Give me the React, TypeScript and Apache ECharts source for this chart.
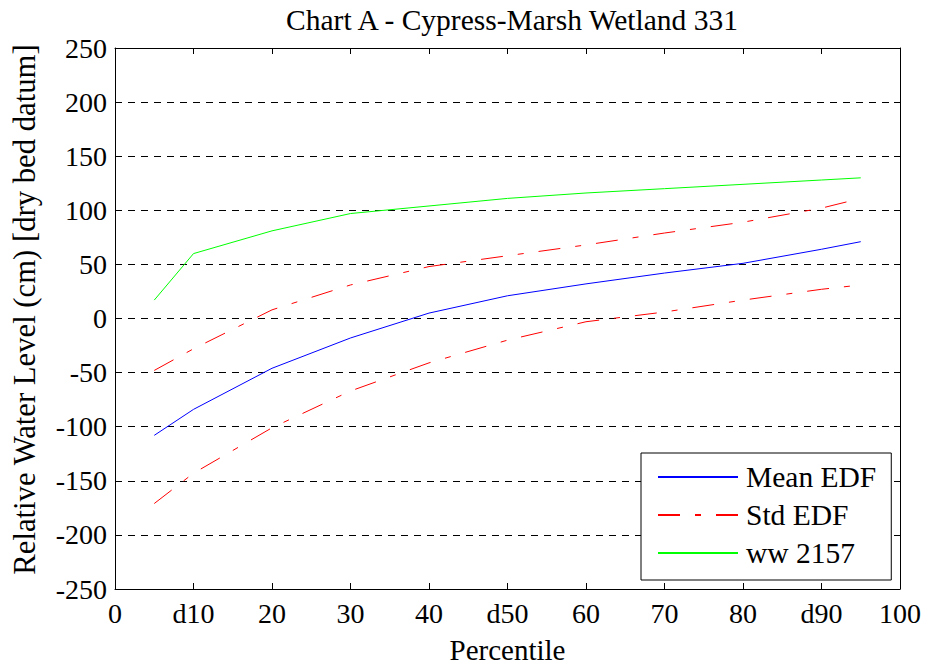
import React, { useEffect, useRef } from "react";
import * as echarts from "echarts";

const percentiles = [5, 10, 20, 30, 40, 50, 60, 70, 80, 90, 95];
const meanEdf = [-108, -84, -46, -18, 5, 21, 32, 42, 51, 64, 71];
const stdUpper = [-48, -28, 8, 31, 48, 58, 68, 79, 89, 102, 111];
const stdLower = [-171, -143, -101, -67, -41, -20, -3, 6, 17, 27, 31];
const ww2157 = [17, 60, 81, 97, 104, 111, 116, 120, 124, 128, 130];

const xTickValues = [0, 10, 20, 30, 40, 50, 60, 70, 80, 90, 100];
const xTickLabels = ["0", "d10", "20", "30", "40", "d50", "60", "70", "80", "d90", "100"];

const FONT = "Liberation Serif";

const pairs = (ys: number[]) => percentiles.map((x, i) => [x, ys[i]]);

export default function App() {
  const ref = useRef<HTMLDivElement>(null);
  useEffect(() => {
    if (!ref.current) return;
    const chart = echarts.init(ref.current, undefined, { renderer: "svg" });
    const tickLabel = (v: number) => {
      const i = xTickValues.indexOf(v);
      return i >= 0 ? xTickLabels[i] : "";
    };
    const axisLine = { show: true, onZero: false, lineStyle: { color: "#000", width: 1 } };
    const axisTick = { show: true, inside: true, length: 6, lineStyle: { color: "#000" } };
    chart.setOption({
      animation: false,
      backgroundColor: "#fff",
      textStyle: { fontFamily: FONT },
      title: {
        text: "Chart A - Cypress-Marsh Wetland 331",
        left: 507,
        top: 0,
        textAlign: "center",
        textStyle: { fontFamily: FONT, fontSize: 29.5, fontWeight: "normal", color: "#000" },
      },
      grid: { left: 115, top: 48, right: 30, bottom: 79, containLabel: false },
      legend: {
        orient: "vertical",
        left: 641,
        top: 453,
        align: "left",
        padding: [9, 15, 12, 16],
        itemWidth: 80,
        itemHeight: 14,
        itemGap: 8,
        borderColor: "#000",
        borderWidth: 1,
        borderRadius: 0,
        backgroundColor: "#fff",
        itemStyle: { opacity: 0 },
        data: [
          { name: "Mean EDF" },
          { name: "Std EDF" },
          { name: "ww 2157" },
        ],
        textStyle: { fontFamily: FONT, fontSize: 29.5, color: "#000", lineHeight: 30, padding: [0, 0, 0, 3] },
      },
      xAxis: [
        {
          type: "value",
          min: 0,
          max: 100,
          interval: 10,
          position: "bottom",
          name: "Percentile",
          nameLocation: "middle",
          nameGap: 46,
          nameTextStyle: { fontFamily: FONT, fontSize: 29, color: "#000" },
          axisLine,
          axisTick,
          splitLine: { show: false },
          axisLabel: { formatter: tickLabel, fontFamily: FONT, fontSize: 28, color: "#000", margin: 10 },
        },
        {
          type: "value",
          min: 0,
          max: 100,
          interval: 10,
          position: "top",
          axisLine,
          axisTick,
          splitLine: { show: false },
          axisLabel: { show: false },
        },
      ],
      yAxis: [
        {
          type: "value",
          min: -250,
          max: 250,
          interval: 50,
          position: "left",
          name: "Relative Water Level (cm) [dry bed datum]",
          nameLocation: "middle",
          nameGap: 75,
          nameTextStyle: { fontFamily: FONT, fontSize: 30.7, color: "#000", padding: [0, 0, 0, 18] },
          axisLine,
          axisTick,
          splitLine: { show: true, lineStyle: { color: "#000", width: 1, type: [7, 6] } },
          axisLabel: { fontFamily: FONT, fontSize: 28, color: "#000", margin: 8 },
        },
        {
          type: "value",
          min: -250,
          max: 250,
          interval: 50,
          position: "right",
          axisLine,
          axisTick,
          splitLine: { show: false },
          axisLabel: { show: false },
        },
      ],
      series: [
        {
          name: "Mean EDF",
          type: "line",
          data: pairs(meanEdf),
          showSymbol: false,
          symbol: "none",
          lineStyle: { color: "#0000ff", width: 1 },
          itemStyle: { color: "#0000ff" },
        },
        {
          name: "Std EDF",
          type: "line",
          data: pairs(stdUpper),
          showSymbol: false,
          symbol: "none",
          lineStyle: { color: "#ff0000", width: 1, type: [22, 15, 6, 15] },
          itemStyle: { color: "#ff0000" },
        },
        {
          name: "Std EDF",
          type: "line",
          data: pairs(stdLower),
          showSymbol: false,
          symbol: "none",
          lineStyle: { color: "#ff0000", width: 1, type: [22, 15, 6, 15] },
          itemStyle: { color: "#ff0000" },
        },
        {
          name: "ww 2157",
          type: "line",
          data: pairs(ww2157),
          showSymbol: false,
          symbol: "none",
          lineStyle: { color: "#00ff00", width: 1 },
          itemStyle: { color: "#00ff00" },
        },
      ],
    });
    return () => chart.dispose();
  }, []);
  return (
    <div
      ref={ref}
      style={{ position: "fixed", left: 0, top: 0, width: 930, height: 669, background: "#fff" }}
    />
  );
}
